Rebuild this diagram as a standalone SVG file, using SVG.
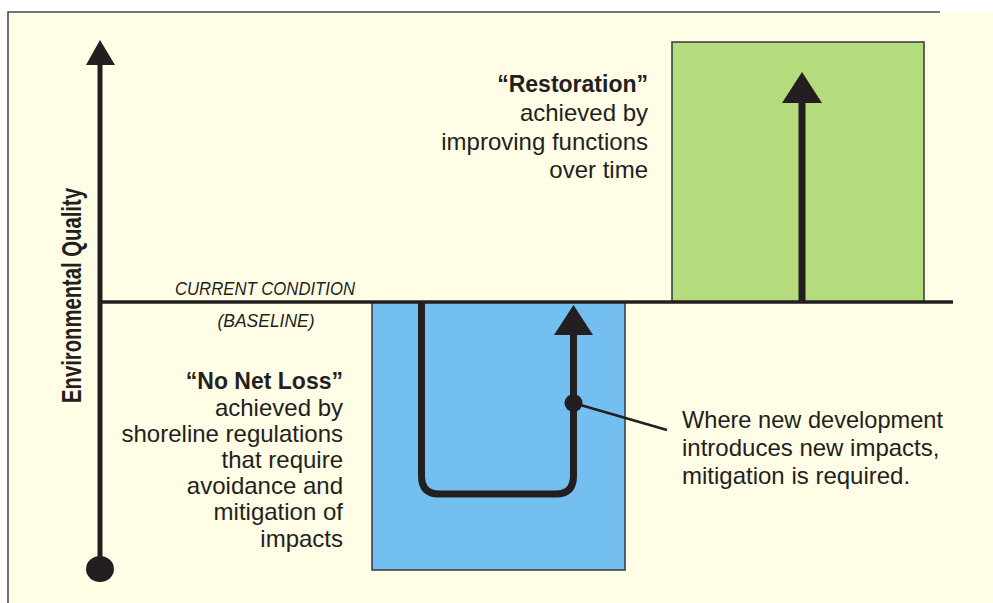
<svg xmlns="http://www.w3.org/2000/svg" width="993" height="603" viewBox="0 0 993 603">
  <style>
    .frame { stroke: #4a4a48; stroke-width: 1.6; fill: none; }
    .box { stroke: #3b4147; stroke-width: 1.6; }
    .thick { stroke: #231f20; fill: none; stroke-width: 7; }
    .ink { fill: #231f20; }
    .body { font-family: "Liberation Sans", Arial, sans-serif; font-size: 24px; fill: #231f20; }
    .head { font-family: "Liberation Sans", Arial, sans-serif; font-size: 23px; font-weight: bold; fill: #231f20; }
    .axis-label { font-family: "Liberation Sans", Arial, sans-serif; font-size: 27px; font-weight: bold; fill: #231f20; }
    .base-label { font-family: "Liberation Sans", Arial, sans-serif; font-size: 19px; font-style: italic; fill: #231f20; }
  </style>

  <!-- page and frame -->
  <rect x="0" y="0" width="993" height="603" fill="#ffffff"/>
  <rect x="8" y="12" width="985" height="591" fill="#fffde6"/>
  <path class="frame" d="M8 603 V12 H940"/>

  <!-- impact zone below the baseline -->
  <g id="no-net-loss-zone">
    <rect class="box" x="372" y="302" width="253" height="268" fill="#72bff0"/>
  </g>

  <!-- gain zone above the baseline -->
  <g id="restoration-zone">
    <rect class="box" x="672" y="42" width="252" height="260" fill="#b4db7c"/>
  </g>

  <!-- baseline -->
  <g id="baseline">
    <line x1="100" y1="302" x2="953" y2="302" stroke="#231f20" stroke-width="3.5"/>
    <text class="base-label" x="265" y="295" text-anchor="middle" textLength="180" lengthAdjust="spacingAndGlyphs">CURRENT CONDITION</text>
    <text class="base-label" x="266" y="327" text-anchor="middle" textLength="97" lengthAdjust="spacingAndGlyphs">(BASELINE)</text>
  </g>

  <!-- vertical axis -->
  <g id="axis">
    <line x1="100" y1="62" x2="100" y2="568" stroke="#231f20" stroke-width="5"/>
    <polygon class="ink" points="86,65 115,65 100,40"/>
    <ellipse class="ink" cx="100" cy="569" rx="14" ry="13"/>
    <text class="axis-label" transform="translate(81 403) rotate(-90)" textLength="215" lengthAdjust="spacingAndGlyphs">Environmental Quality</text>
  </g>

  <!-- connectors -->
  <g id="connectors">
    <path class="thick" d="M421.5 302 V476 Q421.5 494 439 494 H556 Q573.5 494 573.5 476 V333"/>
    <polygon class="ink" points="554,335 593,335 573.5,305"/>
    <line class="thick" x1="802" y1="302" x2="802" y2="100" stroke-width="8"/>
    <polygon class="ink" points="782,103 822,103 802,72"/>
    <line x1="573.5" y1="403" x2="667" y2="430" stroke="#231f20" stroke-width="2.5"/>
    <circle class="ink" cx="573.5" cy="403" r="9"/>
  </g>

  <!-- annotations -->
  <g id="restoration-note">
    <text class="head" x="648" y="92" text-anchor="end">“Restoration”</text>
    <text class="body" x="648" y="121" text-anchor="end">achieved by</text>
    <text class="body" x="648" y="150" text-anchor="end">improving functions</text>
    <text class="body" x="648" y="178" text-anchor="end">over time</text>
  </g>

  <g id="no-net-loss-note">
    <text class="head" x="343" y="389" text-anchor="end">“No Net Loss”</text>
    <text class="body" x="343" y="416" text-anchor="end">achieved by</text>
    <text class="body" x="343" y="442" text-anchor="end">shoreline regulations</text>
    <text class="body" x="343" y="468" text-anchor="end">that require</text>
    <text class="body" x="343" y="494" text-anchor="end">avoidance and</text>
    <text class="body" x="343" y="520" text-anchor="end">mitigation of</text>
    <text class="body" x="343" y="547" text-anchor="end">impacts</text>
  </g>

  <g id="mitigation-note">
    <text class="body" x="682" y="428" textLength="261" lengthAdjust="spacingAndGlyphs">Where new development</text>
    <text class="body" x="682" y="456">introduces new impacts,</text>
    <text class="body" x="682" y="484">mitigation is required.</text>
  </g>
</svg>
